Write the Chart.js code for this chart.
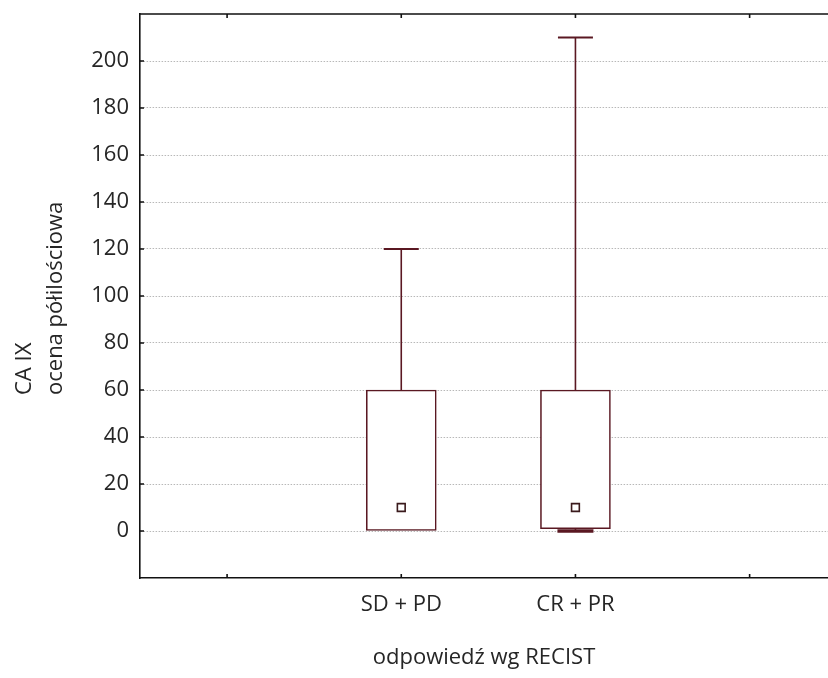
<!DOCTYPE html>
<html>
<head>
<meta charset="utf-8">
<script src="https://cdn.jsdelivr.net/npm/chart.js@4.4.1/dist/chart.umd.min.js"></script>
<style>
  html, body { margin: 0; padding: 0; background: #fff; }
  canvas { display: block; }
</style>
</head>
<body>
<canvas id="boxChart" width="828" height="678"></canvas>
<script>
// Box plot values
const categories = ["SD + PD", "CR + PR"];
const mins = [0, 0];
const q1 = [0, 1];
const medians = [10, 10];
const q3 = [60, 60];
const maxs = [120, 210];
const xTickLabels = ["", "SD + PD", "CR + PR", ""];
const yTitleLines = ["CA IX", "ocena półilościowa"];
const yMin = -20, yMax = 220, yStep = 20;

const lineColor = "#5a1822";
const textColor = "#262626";
const font = "'Open Sans', 'Noto Sans', sans-serif";

// category i sits at x = i + 1
const xs = categories.map((c, i) => i + 1);

const datasets = [];

// median markers
datasets.push({
  type: "scatter",
  order: 0,
  data: xs.map((x, i) => ({ x: x, y: medians[i] })),
  pointStyle: "rect",
  pointRadius: 5.5,
  pointHoverRadius: 0,
  backgroundColor: "#ffffff",
  borderColor: "#3a1a1c",
  borderWidth: 1.6,
});

// whisker caps
datasets.push({
  type: "scatter",
  order: 1,
  data: xs.map((x, i) => ({ x: x, y: maxs[i] })),
  pointStyle: "line",
  pointRadius: 17.5,
  pointHoverRadius: 0,
  borderColor: lineColor,
  borderWidth: 2,
});
datasets.push({
  type: "scatter",
  order: 1,
  data: xs.filter((x, i) => mins[i] < q1[i]).map((x) => ({ x: x, y: mins[x - 1] })),
  pointStyle: "line",
  pointRadius: 18,
  pointHoverRadius: 0,
  borderColor: lineColor,
  borderWidth: 3.5,
});

// whiskers
xs.forEach((x, i) => {
  datasets.push({
    type: "scatter",
    order: 2,
    showLine: true,
    data: [{ x: x, y: q3[i] }, { x: x, y: maxs[i] }],
    pointRadius: 0,
    pointHoverRadius: 0,
    borderColor: lineColor,
    borderWidth: 1.6,
  });
  if (mins[i] < q1[i]) {
    datasets.push({
      type: "scatter",
      order: 2,
      showLine: true,
      data: [{ x: x, y: mins[i] }, { x: x, y: q1[i] }],
      pointRadius: 0,
      pointHoverRadius: 0,
      borderColor: lineColor,
      borderWidth: 1.6,
    });
  }
});

// boxes (floating bars)
datasets.push({
  type: "bar",
  order: 3,
  data: xs.map((x, i) => ({ x: x, y: [q1[i], q3[i]] })),
  backgroundColor: "#ffffff",
  borderColor: lineColor,
  borderWidth: 1.6,
  borderSkipped: false,
  barThickness: 70,
});

// frame top line, inward tick marks and the two-line y title (both lines start at the same height)
const framePlugin = {
  id: "frame",
  afterDraw(chart) {
    const { ctx, chartArea } = chart;
    const x = chart.scales.x, y = chart.scales.y;
    ctx.save();
    ctx.strokeStyle = "#111";
    ctx.lineWidth = 1.6;
    ctx.beginPath();
    ctx.moveTo(chartArea.left, chartArea.top);
    ctx.lineTo(chartArea.right, chartArea.top);
    for (let v = 0; v < xTickLabels.length; v++) {
      const px = x.getPixelForValue(v);
      ctx.moveTo(px, chartArea.top);
      ctx.lineTo(px, chartArea.top + 4);
      ctx.moveTo(px, chartArea.bottom);
      ctx.lineTo(px, chartArea.bottom - 4);
    }
    for (let v = 0; v <= 200; v += yStep) {
      const py = y.getPixelForValue(v);
      ctx.moveTo(chartArea.left, py);
      ctx.lineTo(chartArea.left + 4, py);
    }
    ctx.stroke();

    ctx.fillStyle = textColor;
    ctx.font = "22px " + font;
    ctx.textAlign = "left";
    ctx.textBaseline = "middle";
    ctx.translate(0, 395);
    ctx.rotate(-Math.PI / 2);
    yTitleLines.forEach((line, i) => {
      ctx.fillText(line, 0, 25 + i * 31);
    });
    ctx.restore();
  },
};

const shown = (v) => v >= 0 && v <= 200;

const chartCtx = document.getElementById("boxChart").getContext("2d");
new Chart(chartCtx, {
  type: "bar",
  data: { datasets: datasets },
  plugins: [framePlugin],
  options: {
    responsive: false,
    animation: false,
    layout: { autoPadding: false, padding: { top: 14, right: 0, left: 0, bottom: 0 } },
    plugins: {
      legend: { display: false },
      tooltip: { enabled: false },
    },
    scales: {
      x: {
        type: "linear",
        min: -0.5,
        max: 3.45,
        offset: false,
        afterFit(scale) { scale.height = 100; },
        afterBuildTicks(scale) {
          scale.ticks = xTickLabels.map((l, i) => ({ value: i }));
        },
        ticks: {
          padding: 14,
          color: textColor,
          font: { family: font, size: 22 },
          maxRotation: 0,
          autoSkip: false,
          callback: (v) => xTickLabels[v] || "",
        },
        grid: { display: false, drawTicks: false },
        border: { display: true, color: "#111", width: 1.6 },
        title: {
          display: true,
          text: "odpowiedź wg RECIST",
          color: textColor,
          font: { family: font, size: 22 },
          padding: { top: 0, bottom: 7 },
        },
      },
      y: {
        min: yMin,
        max: yMax,
        afterFit(scale) {
          scale.width = 140;
          scale.paddingTop = 0;
          scale.paddingBottom = 0;
        },
        ticks: {
          stepSize: yStep,
          padding: 11,
          color: textColor,
          font: (c) => ({ family: font, size: c.tick && shown(c.tick.value) ? 22 : 1 }),
          callback: (v) => (shown(v) ? v : ""),
        },
        grid: {
          drawTicks: false,
          color: (c) => (c.tick && shown(c.tick.value) ? "#b8b8b8" : "rgba(0,0,0,0)"),
          lineWidth: 1,
        },
        border: { display: true, color: "#111", width: 1.6, dash: [1.5, 1.5] },
        title: { display: false },
      },
    },
  },
});
</script>
</body>
</html>
